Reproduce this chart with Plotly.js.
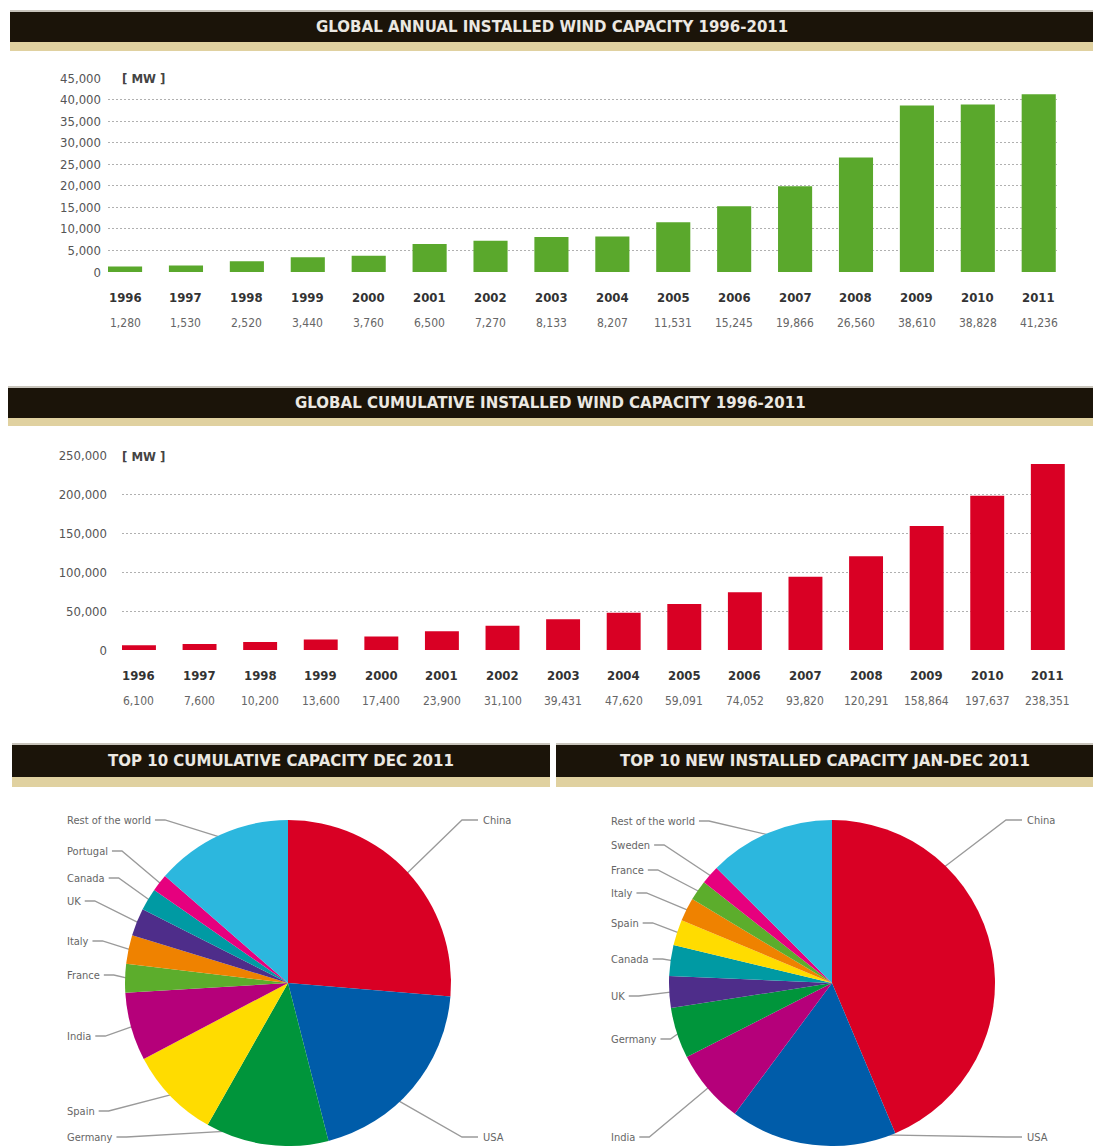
<!DOCTYPE html>
<html><head><meta charset="utf-8">
<script src="https://cdn.plot.ly/plotly-3.0.1.min.js"></script>
<style>html,body{margin:0;padding:0;background:#fff;overflow:hidden}#chart{width:1093px;height:1146px}</style>
</head><body><div id="chart"></div>
<script>
// ---------------- DATA ----------------
const years = [1996,1997,1998,1999,2000,2001,2002,2003,2004,2005,2006,2007,2008,2009,2010,2011];
const annualMW = [1280,1530,2520,3440,3760,6500,7270,8133,8207,11531,15245,19866,26560,38610,38828,41236];
const cumulativeMW = [6100,7600,10200,13600,17400,23900,31100,39431,47620,59091,74052,93820,120291,158864,197637,238351];

const cumCountries = ["China","USA","Germany","Spain","India","France","Italy","UK","Canada","Portugal","Rest of the world"];
const cumValues = [62733,46919,29060,21674,16084,6800,6747,6540,5265,4083,32446];

const newCountries = ["China","USA","India","Germany","UK","Canada","Spain","Italy","France","Sweden","Rest of the world"];
const newValues = [18000,6810,3019,2086,1293,1267,1050,950,830,763,5168];

const titles = {
  annual: "GLOBAL ANNUAL INSTALLED WIND CAPACITY 1996-2011",
  cumulative: "GLOBAL CUMULATIVE INSTALLED WIND CAPACITY 1996-2011",
  topCum: "TOP 10 CUMULATIVE CAPACITY DEC 2011",
  topNew: "TOP 10 NEW INSTALLED CAPACITY JAN-DEC 2011"
};
const unitLabel = "[ MW ]";

// ---------------- STYLE ----------------
const W = 1093, H = 1146;
const px = x => x / W;
const py = y => 1 - y / H;
const FONT = "'Liberation Sans Narrow', 'DejaVu Sans Condensed', 'Open Sans', sans-serif";
const HFONT = "'DejaVu Sans', 'Open Sans', sans-serif";
const countryColors = {
  "China":"#d90024","USA":"#005ca9","Germany":"#00953b","Spain":"#ffdc00","India":"#b5007a",
  "France":"#5cad2c","Italy":"#ef8200","UK":"#4e2d8a","Canada":"#009aa3","Portugal":"#e6007e",
  "Sweden":"#e6007e","Rest of the world":"#2cb7de"
};

const canvas = document.createElement('canvas');
const ctx = canvas.getContext('2d');
function textW(t, size, family, weight) {
  ctx.font = (weight || 'normal') + ' ' + size + 'px ' + family;
  return ctx.measureText(t).width;
}

const shapes = [];
const annotations = [];

// header bars
function header(x0, x1, yTop, yBot, tanBot, text, targetW) {
  shapes.push({type:'rect', xref:'paper', yref:'paper', x0:px(x0), x1:px(x1), y0:py(yTop), y1:py(yTop-2),
    fillcolor:'#c8c4bb', line:{width:0}});
  shapes.push({type:'rect', xref:'paper', yref:'paper', x0:px(x0), x1:px(x1), y0:py(yBot), y1:py(yTop),
    fillcolor:'#1b1409', line:{width:0}});
  shapes.push({type:'rect', xref:'paper', yref:'paper', x0:px(x0), x1:px(x1), y0:py(tanBot), y1:py(yBot),
    fillcolor:'#e0d1a0', line:{width:0}});
  const base = 13;
  const size = base * targetW / textW(text, base, HFONT, 'bold');
  annotations.push({xref:'paper', yref:'paper', x:px((x0+x1)/2), y:py((yTop+yBot)/2), text:text,
    showarrow:false, xanchor:'center', yanchor:'middle',
    font:{family:HFONT, size:Math.min(size, 15), color:'#ebe8e2', weight:'bold'}});
}
header(10, 1093, 12, 42, 51, titles.annual, 490);
header(8, 1093, 388, 418, 426, titles.cumulative, 534);
header(12, 550, 745, 777, 787, titles.topCum, 375);
header(556, 1093, 745, 777, 787, titles.topNew, 443);

// unit labels with white cover over top gridline
function unit(x0, x1, xText, y) {
  shapes.push({type:'rect', xref:'paper', yref:'paper', x0:px(x0), x1:px(x1), y0:py(y+6), y1:py(y-6),
    fillcolor:'#ffffff', line:{width:0}, layer:'above'});
  annotations.push({xref:'paper', yref:'paper', x:px(xText), y:py(y), text:unitLabel, showarrow:false,
    xanchor:'left', yanchor:'middle', font:{family:FONT, size:13, color:'#444', weight:'bold'}});
}
unit(106, 172, 120, 78);
unit(118, 180, 120, 456);

// year and value rows under bars
function rows(xref, vals, yYear, yVal) {
  years.forEach((yr, i) => {
    annotations.push({xref:xref, yref:'paper', x:yr, y:py(yYear), text:String(yr), showarrow:false,
      xanchor:'center', yanchor:'middle', font:{family:FONT, size:13, color:'#333', weight:'bold'}});
    annotations.push({xref:xref, yref:'paper', x:yr, y:py(yVal), text:vals[i].toLocaleString('en-US'), showarrow:false,
      xanchor:'center', yanchor:'middle', font:{family:FONT, size:12, color:'#666'}});
  });
}
rows('x', annualMW, 297, 323);
rows('x2', cumulativeMW, 675, 701);

// pies
const PIE_R = 163;
const PIE_CY = 983;
const leftPie = {cx:288, leftX:65, rightX:481,
  labelY:{"China":820,"USA":1137,"Germany":1137,"Spain":1111,"India":1036,"France":975,"Italy":941,"UK":901,"Canada":878,"Portugal":851,"Rest of the world":820},
  anchorDeg:{"USA":137,"Germany":202}};
const rightPie = {cx:832, leftX:609, rightX:1025,
  labelY:{"China":820,"USA":1137,"India":1137,"Germany":1039,"UK":996,"Canada":959,"Spain":923,"Italy":893,"France":870,"Sweden":845,"Rest of the world":821},
  anchorDeg:{"China":44,"USA":162}};
const rightSide = ["China","USA"];
const LFS = 11;

function pieDecor(cfg, names, values) {
  const total = values.reduce((a, b) => a + b, 0);
  let acc = 0;
  names.forEach((n, i) => {
    let mid = (acc + values[i] / 2) / total * 2 * Math.PI;
    acc += values[i];
    if (cfg.anchorDeg[n] !== undefined) mid = cfg.anchorDeg[n] * Math.PI / 180;
    const ex = cfg.cx + PIE_R * 0.98 * Math.sin(mid);
    const ey = PIE_CY - PIE_R * 0.98 * Math.cos(mid);
    const ly = cfg.labelY[n];
    let path;
    if (rightSide.includes(n)) {
      annotations.push({xref:'paper', yref:'paper', x:px(cfg.rightX), y:py(ly), text:n, showarrow:false,
        xanchor:'left', yanchor:'middle', font:{family:FONT, size:LFS, color:'#666'}});
      const sx = cfg.rightX - 3;
      path = `M ${px(sx)},${py(ly)} L ${px(sx-16)},${py(ly)} L ${px(ex)},${py(ey)}`;
    } else {
      annotations.push({xref:'paper', yref:'paper', x:px(cfg.leftX), y:py(ly), text:n, showarrow:false,
        xanchor:'left', yanchor:'middle', font:{family:FONT, size:LFS, color:'#666'}});
      const sx = cfg.leftX + textW(n, LFS, FONT) + 6;
      path = `M ${px(sx)},${py(ly)} L ${px(sx+10)},${py(ly)} L ${px(ex)},${py(ey)}`;
    }
    shapes.push({type:'path', xref:'paper', yref:'paper', path:path, line:{color:'#9a9a9a', width:1.3}, layer:'below'});
  });
}
pieDecor(leftPie, cumCountries, cumValues);
pieDecor(rightPie, newCountries, newValues);

// ---------------- TRACES ----------------
const traces = [
  {type:'bar', x:years, y:annualMW, xaxis:'x', yaxis:'y', width:0.56,
   marker:{color:'#5aa82c', line:{width:0}}, hoverinfo:'x+y'},
  {type:'bar', x:years, y:cumulativeMW, xaxis:'x2', yaxis:'y2', width:0.56,
   marker:{color:'#d90024', line:{width:0}}, hoverinfo:'x+y'},
  {type:'pie', labels:cumCountries, values:cumValues, sort:false, direction:'clockwise', rotation:0,
   textinfo:'none', marker:{colors:cumCountries.map(c => countryColors[c]), line:{width:0}},
   domain:{x:[px(leftPie.cx-PIE_R), px(leftPie.cx+PIE_R)], y:[py(PIE_CY+PIE_R), py(PIE_CY-PIE_R)]}},
  {type:'pie', labels:newCountries, values:newValues, sort:false, direction:'clockwise', rotation:0,
   textinfo:'none', marker:{colors:newCountries.map(c => countryColors[c]), line:{width:0}},
   domain:{x:[px(rightPie.cx-PIE_R), px(rightPie.cx+PIE_R)], y:[py(PIE_CY+PIE_R), py(PIE_CY-PIE_R)]}}
];

const yCommon = {gridcolor:'#b0b0b0', griddash:'2px,2px', gridwidth:1, zeroline:true, zerolinecolor:'#ffffff',
  zerolinewidth:2, showline:false, ticks:'', tickformat:',d', tickfont:{family:FONT, size:13, color:'#555'}, fixedrange:true};
const xCommon = {range:[1995.72, 2011.3], showticklabels:false, showgrid:false, zeroline:false, showline:false, ticks:'', fixedrange:true};

const layout = {
  width:W, height:H, margin:{l:0, r:0, t:0, b:0}, showlegend:false,
  paper_bgcolor:'#ffffff', plot_bgcolor:'rgba(0,0,0,0)',
  xaxis:Object.assign({}, xCommon, {domain:[px(108), px(1057)], anchor:'y'}),
  yaxis:Object.assign({}, yCommon, {domain:[py(272), py(78)], range:[0, 45000], dtick:5000, anchor:'x', ticklabelstandoff:6}),
  xaxis2:Object.assign({}, xCommon, {domain:[px(122), px(1066)], anchor:'y2'}),
  yaxis2:Object.assign({}, yCommon, {domain:[py(650), py(455)], range:[0, 250000], dtick:50000, anchor:'x2', ticklabelstandoff:14}),
  shapes:shapes, annotations:annotations
};

Plotly.newPlot('chart', traces, layout, {displayModeBar:false});
</script></body></html>
